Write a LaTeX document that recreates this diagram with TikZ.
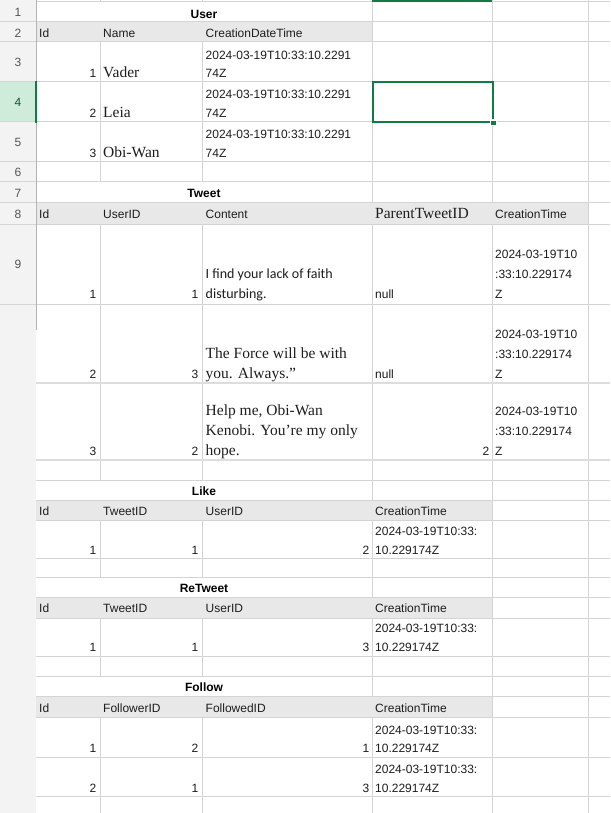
\documentclass[tikz,border=0pt]{standalone}
\usepackage{fontspec}
\setmainfont{Liberation Sans}
\newfontfamily\serifface{Liberation Serif}
\newfontfamily\narrowface{Carlito}
\definecolor{gridc}{HTML}{D4D4D4}
\definecolor{thickc}{HTML}{DDDDDD}
\definecolor{sepc}{HTML}{B4B4B4}
\definecolor{hdrfill}{HTML}{E8E8E8}
\definecolor{rowhdr}{HTML}{F3F3F3}
\definecolor{selgreen}{HTML}{107C41}
\definecolor{selfill}{HTML}{CFEBDA}
\definecolor{txt}{HTML}{1E1E1E}
\definecolor{rhtxt}{HTML}{555555}
\tikzset{
  cell/.style={inner sep=0pt, text=txt, font=\fontsize{12}{14}\selectfont},
  lt/.style={cell, anchor=base west},
  rt/.style={cell, anchor=base east},
  sr/.style={font=\serifface\fontsize{15.5}{18}\selectfont},
  nr/.style={font=\narrowface\fontsize{14}{16}\selectfont},
  ttl/.style={inner sep=0pt, anchor=base, text=black, font=\bfseries\fontsize{12}{14}\selectfont},
  rn/.style={inner sep=0pt, anchor=base, text=rhtxt, font=\fontsize{12}{14}\selectfont},
  gline/.style={draw=gridc, line width=1pt},
  hfill/.style={fill=hdrfill},
}
\begin{document}
\begin{tikzpicture}[x=1pt,y=-1pt]
\useasboundingbox (0,0) rectangle (610,813);
\fill[white] (0,0) rectangle (610,813);
% row header column
\fill[rowhdr] (0,0) rectangle (36,813);
\fill[selfill] (0,82) rectangle (36,122);
% header fills
\fill[hfill] (36,22) rectangle (372,42);
\fill[hfill] (36,202) rectangle (588,224);
\fill[hfill] (36,500) rectangle (492,520);
\fill[hfill] (36,597) rectangle (492,618);
\fill[hfill] (36,696) rectangle (492,717);
% vertical grid lines
\foreach \xx in {100,202}{
  \draw[gline] (\xx,0) -- (\xx,2);
  \draw[gline] (\xx,42) -- (\xx,182);
  \draw[gline] (\xx,224) -- (\xx,480);
  \draw[gline] (\xx,520) -- (\xx,577);
  \draw[gline] (\xx,618) -- (\xx,676);
  \draw[gline] (\xx,717) -- (\xx,813);
}
\draw[gline] (372,0) -- (372,202);
\draw[gline] (372,224) -- (372,500);
\draw[gline] (372,520) -- (372,597);
\draw[gline] (372,618) -- (372,696);
\draw[gline] (372,717) -- (372,813);
\draw[gline] (492,0) -- (492,202);
\draw[gline] (492,224) -- (492,813);
\draw[gline] (588,0) -- (588,813);
% horizontal grid lines
\foreach \yy in {2,22,42,82,122,162,182,202,224,304,480,500,520,558,577,597,618,656,676,696,717,757,796}{
  \draw[gline] (36,\yy) -- (610,\yy);
}
\draw[gline, draw=thickc, line width=1.5pt] (36,383) -- (610,383);
\draw[gline, draw=thickc, line width=1.5pt] (36,460) -- (610,460);
% row header separators
\foreach \yy in {22,42,82,122,162,182,202,224,304}{
  \draw[gline] (0,\yy) -- (36,\yy);
}
\draw[draw=sepc, line width=1pt] (36,0) -- (36,330);
% selection
\fill[selgreen] (372,0) rectangle (492,2);
\draw[selgreen, line width=2pt] (35.5,81.5) -- (35.5,123);
\draw[selgreen, line width=2pt] (372.5,82.5) rectangle (492.5,122.5);
\fill[white] (489.5,119.5) rectangle (496.5,126.5);
\fill[selgreen] (491,121) rectangle (495.5,125.5);
% row numbers
\node[rn] (r1) at (18,16.8) {1};
\node[rn] (r2) at (18,37.2) {2};
\node[rn] (r3) at (18,67) {3};
\node[rn, text=selgreen!70!black] (r4) at (18,107) {4};
\node[rn] (r5) at (18,147) {5};
\node[rn] (r6) at (18,177) {6};
\node[rn] (r7) at (18,197) {7};
\node[rn] (r8) at (18,218) {8};
\node[rn] (r9) at (18,268.5) {9};
% ---- User
\node[ttl] (tuser) at (204,18.3) {User};
\node[lt] (uh1) at (39,37.7) {Id};
\node[lt] (uh2) at (103,37.7) {Name};
\node[lt] (uh3) at (205.5,37.7) {CreationDateTime};
\node[rt] (u1a) at (96.5,77.5) {1};
\node[lt, sr] (u1b) at (103,77.5) {Vader};
\node[lt] (u1c) at (205.5,59.3) {2024-03-19T10:33:10.2291};
\node[lt] (u1d) at (205.5,77.5) {74Z};
\node[rt] (u2a) at (96.5,117.5) {2};
\node[lt, sr] (u2b) at (103,117.5) {Leia};
\node[lt] (u2c) at (205.5,98.8) {2024-03-19T10:33:10.2291};
\node[lt] (u2d) at (205.5,117.5) {74Z};
\node[rt] (u3a) at (96.5,157.5) {3};
\node[lt, sr] (u3b) at (103,157.5) {Obi-Wan};
\node[lt] (u3c) at (205.5,138.5) {2024-03-19T10:33:10.2291};
\node[lt] (u3d) at (205.5,157.5) {74Z};
% ---- Tweet
\node[ttl] (ttweet) at (204,197.5) {Tweet};
\node[lt] (th1) at (39,218.5) {Id};
\node[lt] (th2) at (103,218.5) {UserID};
\node[lt] (th3) at (205.5,218.5) {Content};
\node[lt, sr] (th4) at (375,218.5) {ParentTweetID};
\node[lt] (th5) at (495,218.5) {CreationTime};
% tweet 1
\node[rt] (t1a) at (96.5,298) {1};
\node[rt] (t1b) at (198.5,298) {1};
\node[lt, nr] (t1c) at (205.5,278) {I find your lack of faith};
\node[lt, nr] (t1d) at (205.5,298) {disturbing.};
\node[lt] (t1e) at (375,298) {null};
\node[lt] (t1f) at (495,258) {2024-03-19T10};
\node[lt] (t1g) at (495,278) {:33:10.229174};
\node[lt] (t1h) at (495,298) {Z};
% tweet 2
\node[rt] (t2a) at (96.5,378) {2};
\node[rt] (t2b) at (198.5,378) {3};
\node[lt, sr] (t2c) at (205.5,358) {The Force will be with};
\node[lt, sr] (t2d) at (205.5,378) {you. Always.”};
\node[lt] (t2e) at (375,378) {null};
\node[lt] (t2f) at (495,338) {2024-03-19T10};
\node[lt] (t2g) at (495,358) {:33:10.229174};
\node[lt] (t2h) at (495,378) {Z};
% tweet 3
\node[rt] (t3a) at (96.5,455.7) {3};
\node[rt] (t3b) at (198.5,455.7) {2};
\node[lt, sr] (t3c) at (205.5,415.5) {Help me, Obi-Wan};
\node[lt, sr] (t3d) at (205.5,435.7) {Kenobi. You’re my only};
\node[lt, sr] (t3e) at (205.5,455.7) {hope.};
\node[rt] (t3f) at (489.5,455.7) {2};
\node[lt] (t3g) at (495,415.5) {2024-03-19T10};
\node[lt] (t3h) at (495,435.7) {:33:10.229174};
\node[lt] (t3i) at (495,455.7) {Z};
% ---- Like
\node[ttl] (tlike) at (204,495.5) {Like};
\node[lt] (lh1) at (39,515) {Id};
\node[lt] (lh2) at (103,515) {TweetID};
\node[lt] (lh3) at (205.5,515) {UserID};
\node[lt] (lh4) at (375,515) {CreationTime};
\node[rt] (l1a) at (96.5,554) {1};
\node[rt] (l1b) at (198.5,554) {1};
\node[rt] (l1c) at (369.5,554) {2};
\node[lt] (l1d) at (375,535) {2024-03-19T10:33:};
\node[lt] (l1e) at (375,554) {10.229174Z};
% ---- ReTweet
\node[ttl] (tretweet) at (204,592.5) {ReTweet};
\node[lt] (rh1) at (39,612) {Id};
\node[lt] (rh2) at (103,612) {TweetID};
\node[lt] (rh3) at (205.5,612) {UserID};
\node[lt] (rh4) at (375,612) {CreationTime};
\node[rt] (rt1a) at (96.5,651.5) {1};
\node[rt] (rt1b) at (198.5,651.5) {1};
\node[rt] (rt1c) at (369.5,651.5) {3};
\node[lt] (rt1d) at (375,632) {2024-03-19T10:33:};
\node[lt] (rt1e) at (375,651.5) {10.229174Z};
% ---- Follow
\node[ttl] (tfollow) at (204,691.5) {Follow};
\node[lt] (fh1) at (39,712) {Id};
\node[lt] (fh2) at (103,712) {FollowerID};
\node[lt] (fh3) at (205.5,712) {FollowedID};
\node[lt] (fh4) at (375,712) {CreationTime};
\node[rt] (f1a) at (96.5,752.5) {1};
\node[rt] (f1b) at (198.5,752.5) {2};
\node[rt] (f1c) at (369.5,752.5) {1};
\node[lt] (f1d) at (375,734) {2024-03-19T10:33:};
\node[lt] (f1e) at (375,752.5) {10.229174Z};
\node[rt] (f2a) at (96.5,792) {2};
\node[rt] (f2b) at (198.5,792) {1};
\node[rt] (f2c) at (369.5,792) {3};
\node[lt] (f2d) at (375,773) {2024-03-19T10:33:};
\node[lt] (f2e) at (375,792) {10.229174Z};
\end{tikzpicture}
\end{document}
